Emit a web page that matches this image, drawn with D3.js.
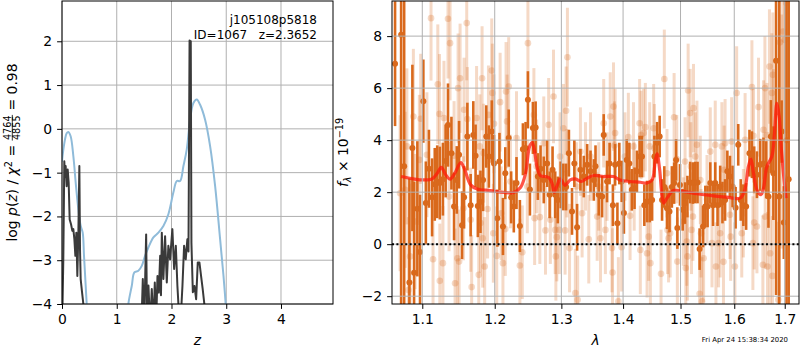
<!DOCTYPE html>
<html><head><meta charset="utf-8">
<script src="https://cdn.jsdelivr.net/npm/d3@7"></script>
<style>body{margin:0;background:#fff} text{font-family:"DejaVu Sans",sans-serif;white-space:pre}</style>
</head><body><svg id="c" width="800" height="350"></svg>
<script>
// ---------- DATA ----------
// left panel: log p(z) (black) and prior / template curve (blue)
const pzZ    = [0.0,0.01,0.024,0.042,0.055,0.067,0.085,0.095,0.104,0.122,0.140,0.165,0.189,0.207,0.226,0.244,0.262,0.28,0.299,0.317,0.329,0.341,0.366,0.39,0.42,
                1.44,1.45,1.476,1.50,1.537,1.555,1.579,1.61,1.64,1.67,1.695,1.72,1.744,1.768,1.793,1.808,1.823,1.852,1.883,1.914,1.943,1.974,2.016,2.048,2.079,2.108,2.14,2.17,2.2,2.23,2.26,2.29,2.31,2.33,2.342,2.352,2.364,2.39,2.42,2.45,2.48,2.51,2.54,2.57,2.60,2.63];
const pzLogp = [-4.6,-4.0,-2.98,-0.74,-1.1,-0.85,-1.31,-1.05,-0.93,-1.23,-2.07,-2.18,-2.33,-2.29,-2.52,-2.9,-2.37,-3.36,-2.37,-0.85,-2.75,-3.43,-3.73,-4.0,-4.8,
                -4.8,-4.5,-3.43,-4.5,-2.41,-4.5,-3.58,-4.5,-3.66,-4.5,-3.51,-4.4,-3.36,-3.74,-2.9,-3.8,-2.37,-3.43,-2.45,-3.51,-2.67,-2.98,-2.29,-3.2,-2.67,-3.59,-4.3,-4.3,-3.59,-2.67,-2.98,-2.52,-2.8,2.02,1.6,2.0,-2.6,-3.73,-3.59,-3.89,-3.05,-3.05,-3.36,-3.66,-4.0,-4.8];
const priorZ    = [0.0,0.01,0.055,0.085,0.116,0.158,0.207,0.256,0.299,0.342,0.378,0.402,0.433,0.451,0.48,
                   1.18,1.212,1.274,1.322,1.395,1.457,1.517,1.578,1.669,1.761,1.852,1.943,2.035,2.097,2.157,2.218,2.279,2.34,2.40,2.462,2.523,2.614,2.706,2.797,2.888,2.95,2.99,3.03];
const priorLogp = [-0.75,-0.62,-0.24,-0.1,-0.07,-0.17,-0.62,-1.31,-1.84,-2.22,-2.37,-2.9,-3.59,-4.0,-4.6,
                   -4.6,-4.0,-3.59,-3.28,-3.24,-3.13,-2.9,-2.71,-2.48,-2.37,-2.22,-1.95,-1.45,-1.19,-1.19,-0.85,-0.47,0.21,0.59,0.67,0.55,0.21,-0.4,-1.31,-2.52,-3.36,-4.0,-4.7];
const pzXTicks = [0,1,2,3,4];
const pzYTicks = [-4,-3,-2,-1,0,1,2];

// right panel: spectrum, first orientation (dark)
const specAWave = [1.0646,1.0724,1.0763,1.0831,1.0870,1.0892,1.0935,1.0970,1.1014,1.1047,1.1088,1.1130,1.1166,1.1199,1.1234,1.1276,1.1313,1.1345,1.1392,1.1428,1.1465,1.1497,1.1538,1.1566,1.1612,1.1658,1.1695,1.1727,1.1759,1.1796,1.1833,1.1879,1.1916,1.1957,1.1989,
  1.2038,1.2068,1.2119,1.2153,1.2203,1.2239,1.2278,1.2318,1.2368,1.2413,1.2453,1.2488,1.2518,1.2563,1.2604,1.2638,1.2679,1.2728,1.2779,1.2818,1.2863,1.2904,1.2944,1.2989,
  1.3031,1.3074,1.3118,1.3167,1.3204,1.3248,1.3301,1.3355,1.3409,1.3463,1.3516,1.3544,1.3597,1.3652,1.3678,1.3733,1.3775,1.3830,1.3867,1.3905,1.3937,1.3976,
  1.4014,1.4061,1.4106,1.4148,1.4194,1.4235,1.4281,1.4322,1.4362,1.4409,1.4455,1.4497,1.4537,1.4584,1.4629,1.4671,1.4711,1.4758,1.4803,1.4845,1.4885,1.4920,1.4943,1.4990,
  1.5039,1.5082,1.5125,1.5175,1.5225,1.5268,1.5310,1.5348,1.5411,1.5454,1.5496,1.5546,1.5597,1.5639,1.5682,1.5732,1.5775,1.5825,1.5868,1.5918,1.5968,
  1.6026,1.6077,1.6125,1.6176,1.6230,1.6295,1.6343,1.6388,1.6442,1.6507,1.6572,1.6626,1.6671,1.6719,1.6770,1.6824,1.6889,1.6937,1.6982,1.7036,1.7081];
const specAFlux = [6.94,8.05,3.0,-1.47,3.7,-1.1,1.36,-0.3,5.5,1.58,2.9,1.8,2.3,2.4,2.35,2.5,3.2,4.58,3.5,1.45,2.47,3.44,0.73,1.8,4.14,1.5,4.2,3.4,1.47,1.63,2.47,4.14,3.37,4.33,3.1,
  1.0,3.18,0.68,2.73,4.08,1.8,1.45,2.35,0.7,3.65,3.7,5.55,2.1,4.47,4.49,2.6,2.9,2.47,3.1,1.9,2.86,1.9,1.7,2.28,
  2.2,2.2,3.5,1.26,3.1,0.65,2.86,2.6,3.05,2.8,2.47,3.0,1.9,1.83,4.2,2.41,3.1,1.5,3.05,0.8,3.1,2.41,
  1.2,3.24,3.1,2.09,2.15,2.8,3.37,3.37,1.5,1.64,1.64,1.7,3.37,3.9,4.14,1.7,2.2,1.38,1.26,2.2,2.35,3.24,0.62,2.28,
  1.32,1.58,1.83,2.37,2.35,2.37,2.37,-0.19,0.68,1.45,1.45,2.35,1.5,2.35,1.5,2.22,1.6,1.7,2.8,2.6,2.22,
  1.4,3.82,1.7,1.5,1.45,3.5,3.44,2.86,2.67,3.05,3.1,2.86,1.83,4.14,2.73,7.05,1.83,4.33,0.83,4.0,2.5];
const specAErr  = [2.4,12,12,4.0,3.2,3.5,2.6,2.2,1.6,1.6,1.5,1.5,1.4,1.4,1.4,1.4,1.4,1.6,1.4,1.3,1.3,1.3,1.3,1.2,1.3,1.2,1.3,1.2,1.2,1.2,1.2,1.2,1.2,1.2,1.1,
  1.1,1.1,1.1,1.0,1.1,1.0,1.0,1.0,1.0,1.0,1.0,1.1,1.0,1.0,1.0,0.9,0.9,0.9,0.9,0.9,0.9,0.9,0.9,0.9,
  0.9,0.9,0.9,0.9,0.9,0.9,0.8,0.8,0.8,0.8,0.8,0.8,0.8,0.8,0.8,0.8,0.8,0.8,0.8,0.8,0.8,0.8,
  0.8,0.8,0.8,0.8,0.8,0.8,0.8,0.8,0.8,0.8,0.8,0.8,0.8,0.8,0.8,0.8,0.8,0.8,0.8,0.8,0.8,0.8,0.8,0.8,
  0.8,0.8,0.8,0.8,0.8,0.8,0.8,0.8,0.8,0.8,0.8,0.8,0.8,0.8,0.8,0.8,0.8,0.8,0.8,0.8,0.8,
  0.8,0.8,0.8,0.8,0.9,0.9,0.9,0.9,0.9,1.0,1.0,1.1,1.2,1.4,1.8,9,8,1.2,1.4,12,12];

// right panel: spectrum, second orientation (light)
const specBWave = [1.0711,1.0776,1.0798,1.0818,1.0840,1.0883,1.0905,1.0961,1.0979,1.1061,1.1116,1.1143,1.1207,1.1230,1.1234,1.1276,1.1290,1.1345,1.1359,1.1373,1.1428,1.1442,1.1474,1.1483,1.1497,1.1511,1.1557,1.1566,1.1603,1.1612,1.1658,1.1672,1.1741,1.1772,1.1786,1.1796,1.1819,1.1828,1.1842,1.1856,1.1897,1.1910,1.1957,1.1966,1.1980,
  1.1989,1.2029,1.2078,1.2093,1.2119,1.2153,1.2164,1.2179,1.2203,1.2228,1.2318,1.2368,1.2404,1.2479,1.2488,1.2578,1.2589,1.2619,1.2668,1.2728,1.2754,1.2803,1.2829,1.2878,1.2904,1.2914,1.2929,1.2968,1.2979,
  1.3031,1.3058,1.3074,1.3086,1.3095,1.3128,1.3220,1.3236,1.3257,1.3301,1.3328,1.3382,1.3435,1.3463,1.3571,1.3597,1.3625,1.3678,1.3706,1.3733,1.3786,1.3814,1.3824,1.3840,1.3856,1.3867,1.3921,1.3976,
  1.4031,1.4089,1.4118,1.4176,1.4188,1.4281,1.4293,1.4305,1.4350,1.4380,1.4409,1.4437,1.4455,1.4467,1.4524,1.4537,1.4653,1.4711,1.4758,1.4768,1.4786,1.4815,1.4885,1.4932,1.4943,
  1.5050,1.5082,1.5095,1.5113,1.5125,1.5138,1.5175,1.5188,1.5199,1.5236,1.5225,1.5268,1.5299,1.5348,1.5361,1.5374,1.5392,1.5422,1.5485,1.5546,1.5578,1.5639,1.5652,1.5701,1.5732,1.5764,1.5794,1.5807,1.5825,1.5918,1.5931,1.5950,
  1.6012,1.6046,1.6145,1.6176,1.6210,1.6343,1.6362,1.6374,1.6388,1.6442,1.6473,1.6560,1.6572,1.6600,1.6606,1.6640,1.6652,1.6691,1.6705,1.6739,1.6751,1.6759,1.6770,1.6869,1.6903,1.6937,1.6968,1.7002,1.7036];
const specBFlux = [1.96,2.09,3.76,-1.76,-0.47,4.91,0.87,3.24,4.82,3.44,8.69,-0.58,6.15,5.01,-1.41,-0.73,4.85,8.67,1.83,7.73,3.40,-1.5,-0.54,6.0,-0.67,6.38,1.38,5.17,8.5,4.81,0.94,-1.65,4.85,-1.18,3.76,0.81,6.38,0.23,3.5,-0.86,1.35,4.97,6.68,5.81,0.42,
  4.63,-0.45,5.46,1.19,-0.73,0.58,5.87,4.72,6.06,2.41,4.08,-0.82,-0.31,2.22,7.73,4.97,1.0,2.99,1.04,3.88,0.53,4.59,0.94,5.68,0.55,-0.47,0.27,0.55,3.37,
  4.46,0.53,5.13,2.73,7.19,-0.15,-1.88,2.22,-2.14,3.56,1.19,2.99,0.19,3.37,1.06,2.22,0.23,4.65,0.55,2.6,4.91,-0.15,-1.09,5.29,3.79,4.27,-2.2,-0.12,
  3.37,4.12,1.09,3.76,2.22,4.65,-0.22,4.2,4.27,4.5,-0.35,0.29,3.76,-0.73,4.46,3.69,-1.14,6.35,2.73,0.55,0.23,0.42,4.88,3.27,-0.67,
  0.87,3.18,-0.92,0.1,-0.47,5.91,5.04,2.99,0.55,5.23,1.06,3.37,3.82,-1.91,2.47,0.42,-2.2,-0.54,1.73,3.56,0.04,3.82,-0.86,0.04,0.42,3.76,-0.68,2.86,3.88,1.13,0.29,3.95,
  -0.86,5.81,0.42,1.19,4.01,6.04,0.04,4.17,0.83,0.68,5.27,-0.79,4.4,6.0,1.06,4.2,-0.86,6.83,-0.35,5.81,-1.22,6.51,4.33,-2.14,7.76,4.33,8.18,7.86,9.27];
const specBErr  = [3.0,3.0,3.0,2.8,2.8,2.6,2.6,2.5,2.5,2.4,2.4,2.3,2.3,2.3,2.2,2.2,2.2,2.3,2.1,2.2,2.1,2.1,2.0,2.1,2.0,2.1,2.0,2.0,2.2,2.0,2.0,2.0,2.0,2.0,2.0,1.9,2.0,1.9,1.9,1.9,1.9,1.9,2.0,1.9,1.9,
  1.9,1.9,1.9,1.8,1.8,1.8,1.9,1.8,1.9,1.8,1.8,1.8,1.8,1.8,2.0,1.8,1.8,1.8,1.8,1.8,1.7,1.8,1.7,1.8,1.7,1.7,1.7,1.7,1.7,
  1.7,1.7,1.7,1.7,1.9,1.7,1.7,1.7,1.7,1.7,1.7,1.7,1.7,1.7,1.7,1.7,1.7,1.7,1.7,1.7,1.7,1.7,1.7,1.7,1.7,1.7,1.7,1.7,
  1.7,1.7,1.7,1.7,1.7,1.7,1.7,1.7,1.7,1.7,1.7,1.7,1.7,1.7,1.7,1.7,1.7,1.9,1.7,1.7,1.7,1.7,1.7,1.7,1.7,
  1.7,1.7,1.7,1.7,1.7,1.8,1.7,1.7,1.7,1.7,1.7,1.7,1.7,1.7,1.7,1.7,1.7,1.7,1.7,1.7,1.7,1.7,1.7,1.7,1.7,1.7,1.7,1.7,1.7,1.7,1.7,1.7,
  1.7,1.8,1.7,1.7,1.8,1.8,1.8,1.8,1.8,1.8,1.9,1.9,1.9,2.0,2.0,2.0,2.1,2.2,2.2,2.3,2.3,2.4,2.4,3.0,4.5,4.5,5.0,5.0,5.0];

// best-fit template model (red)
const modelWave = [1.0724,1.0883,1.1014,1.1130,1.1199,1.1254,1.1313,1.1373,1.1438,1.1521,1.1576,1.1658,1.1750,1.1934,1.2128,1.2278,1.2379,1.2453,1.2513,1.2554,1.2589,1.2629,1.2679,1.2754,1.2803,1.2854,1.2889,1.2929,1.2979,1.3015,1.3058,1.3139,1.3220,1.3312,1.3409,1.3516,1.3678,1.3840,1.3948,1.4118,1.4293,1.4409,1.4497,1.4554,1.4584,1.4629,1.4671,1.4699,1.4758,1.4873,1.5050,1.5299,1.5608,1.5856,1.6111,1.6196,1.6275,1.6323,1.6374,1.6442,1.6521,1.6572,1.6640,1.6739,1.6792,1.6840,1.6887,1.6927,1.6973,1.7028];
const modelFlux = [2.6,2.51,2.47,2.51,2.73,2.95,2.67,2.5,2.73,3.14,2.86,2.28,2.12,2.06,1.99,1.99,2.19,2.73,3.76,3.91,3.56,2.92,2.63,2.6,2.56,2.35,1.99,2.22,2.51,2.41,2.26,2.47,2.51,2.41,2.54,2.64,2.6,2.6,2.47,2.41,2.38,2.35,2.47,3.24,3.47,2.86,1.83,1.58,1.77,2.06,2.03,1.94,1.86,1.81,1.77,2.03,2.99,3.27,2.73,2.09,1.9,2.15,2.99,3.37,4.27,5.42,4.91,3.76,2.73,1.77];
const specXTicks = [1.1,1.2,1.3,1.4,1.5,1.6,1.7];
const specYTicks = [-2,0,2,4,6,8];

// ---------- DRAW ----------
const svg = d3.select("#c");
const FS = 13.9;
const L = {x0:62, x1:333, y0:1, y1:304};
const R = {x0:392, x1:799, y0:1, y1:304};
const xL = d3.scaleLinear().domain([0,4.95]).range([L.x0,L.x1]);
const yL = d3.scaleLinear().domain([-4,2.92]).range([L.y1,L.y0]);
const xR = d3.scaleLog().domain([1.0607,1.7294]).range([R.x0,R.x1]);
const yR = d3.scaleLinear().domain([-2.3,9.35]).range([R.y1,R.y0]);

const defs = svg.append("defs");
defs.append("clipPath").attr("id","clipL").append("rect").attr("x",L.x0).attr("y",L.y0).attr("width",L.x1-L.x0).attr("height",L.y1-L.y0);
defs.append("clipPath").attr("id","clipR").append("rect").attr("x",R.x0).attr("y",R.y0).attr("width",R.x1-R.x0).attr("height",R.y1-R.y0);

function grid(g, xs, ys, xt, yt, A){
  g.selectAll(null).data(xt).join("line").attr("x1",d=>xs(d)).attr("x2",d=>xs(d)).attr("y1",A.y0).attr("y2",A.y1)
    .attr("stroke","#b0b0b0").attr("stroke-width",1);
  g.selectAll(null).data(yt).join("line").attr("y1",d=>ys(d)).attr("y2",d=>ys(d)).attr("x1",A.x0).attr("x2",A.x1)
    .attr("stroke","#b0b0b0").attr("stroke-width",1);
}
function styleAxis(g){
  g.select(".domain").remove();
  g.attr("font-size",null).attr("font-family",null);
  g.selectAll("line").attr("stroke","#000").attr("stroke-width",1);
  g.selectAll("text").attr("fill","#000").style("font-size",FS+"px");
}

// ---- left panel ----
const gLg = svg.append("g"); grid(gLg,xL,yL,pzXTicks,pzYTicks,L);
const gL = svg.append("g").attr("clip-path","url(#clipL)");
gL.append("path").datum(priorZ.map((z,i)=>[z,priorLogp[i]]))
  .attr("d", d3.line().x(d=>xL(d[0])).y(d=>yL(d[1])).curve(d3.curveCatmullRom.alpha(0.5)))
  .attr("fill","none").attr("stroke","#8fbbd9").attr("stroke-width",2);
gL.append("path").datum(pzZ.map((z,i)=>[z,pzLogp[i]]))
  .attr("d", d3.line().x(d=>xL(d[0])).y(d=>yL(d[1])))
  .attr("fill","none").attr("stroke","#3a3a3a").attr("stroke-width",2).attr("stroke-linejoin","round");
svg.append("rect").attr("x",L.x0).attr("y",L.y0).attr("width",L.x1-L.x0).attr("height",L.y1-L.y0).attr("fill","none").attr("stroke","#000").attr("stroke-width",1);
svg.append("g").attr("transform",`translate(0,${L.y1})`)
  .call(d3.axisBottom(xL).tickValues(pzXTicks).tickFormat(d3.format("d")).tickSize(4.9).tickPadding(4.9))
  .call(styleAxis).selectAll("text").attr("dy","0.76em");
svg.append("g").attr("transform",`translate(${L.x0},0)`)
  .call(d3.axisLeft(yL).tickValues(pzYTicks).tickFormat(d3.format("d")).tickSize(4.9).tickPadding(4.9))
  .call(styleAxis);

// annotation
svg.append("text").attr("x",317).attr("y",24).attr("text-anchor","end").style("font-size","12px").text("j105108p5818");
svg.append("text").attr("x",317).attr("y",38.5).attr("text-anchor","end").style("font-size","12px").text("ID=1067   z=2.3652");

// x label
svg.append("text").attr("x",(L.x0+L.x1)/2).attr("y",345).attr("text-anchor","middle").style("font-size",FS+"px").attr("font-style","italic").text("z");

// y label with fraction
{
  const outer = svg.append("g").attr("transform",`translate(17,${(L.y0+L.y1)/2}) rotate(-90)`);
  const g = outer.append("g");
  const t1 = g.append("text").style("font-size",FS+"px");
  t1.append("tspan").text("log ");
  t1.append("tspan").attr("font-style","italic").text("p");
  t1.append("tspan").text("(");
  t1.append("tspan").attr("font-style","italic").text("z");
  t1.append("tspan").text(") / ");
  t1.append("tspan").attr("font-style","italic").text("χ");
  t1.append("tspan").style("font-size","9.7px").attr("dy",-5.5).text("2");
  t1.append("tspan").attr("dy",5.5).text(" = ");
  const w1 = t1.node().getComputedTextLength();
  const num = g.append("text").style("font-size","9.7px").attr("y",-6.3).attr("text-anchor","middle").text("4764");
  const den = g.append("text").style("font-size","9.7px").attr("y",3.4).attr("text-anchor","middle").text("4855");
  const fw = Math.max(num.node().getComputedTextLength(), den.node().getComputedTextLength()) + 1;
  num.attr("x", w1 + fw/2); den.attr("x", w1 + fw/2);
  g.append("line").attr("x1",w1).attr("x2",w1+fw).attr("y1",-4.7).attr("y2",-4.7).attr("stroke","#000").attr("stroke-width",0.8);
  const t3 = g.append("text").style("font-size",FS+"px").attr("x",w1+fw).text(" = 0.98");
  const W = w1 + fw + t3.node().getComputedTextLength();
  g.attr("transform",`translate(${-W/2},0)`);
}

// ---- right panel ----
const specA = specAWave.map((w,i)=>({w, f:specAFlux[i], e:specAErr[i]}));
const specB = specBWave.map((w,i)=>({w, f:specBFlux[i], e:specBErr[i]}));
const COL = "#d9691c";
const gR = svg.append("g").attr("clip-path","url(#clipR)");
gR.append("g").selectAll("line").data(specB).join("line")
  .attr("x1",d=>xR(d.w)).attr("x2",d=>xR(d.w)).attr("y1",d=>yR(d.f-d.e)).attr("y2",d=>yR(d.f+d.e))
  .attr("stroke",COL).attr("stroke-opacity",0.25).attr("stroke-width",3);
gR.append("g").selectAll("circle").data(specB).join("circle")
  .attr("cx",d=>xR(d.w)).attr("cy",d=>yR(d.f)).attr("r",3.3).attr("fill",COL).attr("fill-opacity",0.25);
gR.append("g").selectAll("line").data(specA).join("line")
  .attr("x1",d=>xR(d.w)).attr("x2",d=>xR(d.w)).attr("y1",d=>yR(d.f-d.e)).attr("y2",d=>yR(d.f+d.e))
  .attr("stroke",COL).attr("stroke-width",2.6);
gR.append("g").selectAll("circle").data(specA).join("circle")
  .attr("cx",d=>xR(d.w)).attr("cy",d=>yR(d.f)).attr("r",3).attr("fill",COL);
const gRg = svg.append("g"); grid(gRg,xR,yR,specXTicks,specYTicks,R);
gR.append("path").datum(modelWave.map((w,i)=>[w,modelFlux[i]]))
  .attr("d", d3.line().x(d=>xR(d[0])).y(d=>yR(d[1])).curve(d3.curveCatmullRom.alpha(0.5)))
  .attr("fill","none").attr("stroke","#ff1a0a").attr("stroke-opacity",0.75).attr("stroke-width",3.2).attr("stroke-linejoin","round");
svg.append("line").attr("x1",R.x0).attr("x2",R.x1).attr("y1",yR(0)).attr("y2",yR(0))
  .attr("stroke","#000").attr("stroke-width",2).attr("stroke-dasharray","2,2.4");
svg.append("rect").attr("x",R.x0).attr("y",R.y0).attr("width",R.x1-R.x0).attr("height",R.y1-R.y0).attr("fill","none").attr("stroke","#000").attr("stroke-width",1);
svg.append("g").attr("transform",`translate(0,${R.y1})`)
  .call(d3.axisBottom(xR).tickValues(specXTicks).tickFormat(d3.format(".1f")).tickSize(4.9).tickPadding(4.9))
  .call(styleAxis).selectAll("text").attr("dy","0.76em");
svg.append("g").attr("transform",`translate(${R.x0},0)`)
  .call(d3.axisLeft(yR).tickValues(specYTicks).tickFormat(d3.format("d")).tickSize(4.9).tickPadding(4.9))
  .call(styleAxis);

svg.append("text").attr("x",(R.x0+R.x1)/2).attr("y",345).attr("text-anchor","middle").style("font-size",FS+"px").attr("font-style","italic").text("λ");
{
  const t = svg.append("text").attr("transform",`translate(348,${(R.y0+R.y1)/2}) rotate(-90)`).attr("text-anchor","middle").style("font-size",FS+"px");
  t.append("tspan").attr("font-style","italic").text("f");
  t.append("tspan").attr("font-style","italic").style("font-size","9.7px").attr("dy",3).text("λ");
  t.append("tspan").attr("dy",-3).text(" × 10");
  t.append("tspan").style("font-size","9.7px").attr("dy",-5.5).text("−19");
}
svg.append("text").attr("x",788).attr("y",342).attr("text-anchor","end").style("font-size","6.9px").text("Fri Apr 24 15:38:34 2020");
</script></body></html>
